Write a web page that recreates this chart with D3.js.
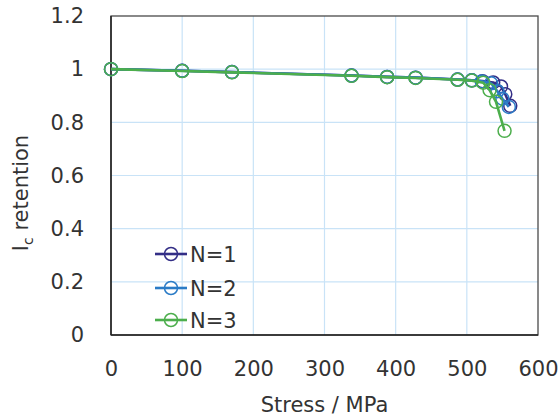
<!DOCTYPE html>
<html>
<head>
<meta charset="utf-8">
<script src="https://cdn.jsdelivr.net/npm/d3@7"></script>
<style>
  html, body { margin: 0; padding: 0; background: #fff; }
  svg { display: block; font-family: "DejaVu Sans", Verdana, sans-serif; }
</style>
</head>
<body>
<svg id="chart" width="559" height="419"></svg>
<script>
// ---- data ----
const seriesNames = ["N=1", "N=2", "N=3"];
const stressN1 = [0, 100, 170, 338, 388, 428, 487, 507, 522, 537, 548, 554, 561];
const retentionN1 = [1.000, 0.994, 0.989, 0.976, 0.971, 0.968, 0.961, 0.958, 0.955, 0.950, 0.935, 0.906, 0.862];
const stressN2 = [0, 100, 170, 338, 388, 428, 487, 507, 521, 534, 543, 550, 559];
const retentionN2 = [1.000, 0.994, 0.989, 0.976, 0.971, 0.968, 0.961, 0.958, 0.954, 0.947, 0.917, 0.889, 0.858];
const stressN3 = [0, 100, 170, 338, 388, 428, 487, 507, 523, 532, 541, 553];
const retentionN3 = [1.000, 0.993, 0.988, 0.975, 0.970, 0.967, 0.960, 0.957, 0.949, 0.921, 0.877, 0.768];
const xTicks = [0, 100, 200, 300, 400, 500, 600];
const yTicks = [0, 0.2, 0.4, 0.6, 0.8, 1.0, 1.2];
const colors = ["#332e86", "#2a7bc6", "#4cae4c"];

const series = [
  { name: seriesNames[0], xs: stressN1, ys: retentionN1, color: colors[0] },
  { name: seriesNames[1], xs: stressN2, ys: retentionN2, color: colors[1] },
  { name: seriesNames[2], xs: stressN3, ys: retentionN3, color: colors[2] }
];

// ---- layout ----
const svg = d3.select("#chart");
const pL = 111, pR = 538, pT = 16, pB = 335;
const x = d3.scaleLinear().domain([0, 600]).range([pL, pR]);
const y = d3.scaleLinear().domain([0, 1.2]).range([pB, pT]);

// gridlines
const grid = svg.append("g");
grid.selectAll("line.vg").data(xTicks.slice(1, -1)).enter().append("line")
  .attr("x1", d => x(d)).attr("x2", d => x(d))
  .attr("y1", pT).attr("y2", pB)
  .attr("stroke", "#c9e3f7").attr("stroke-width", 1.2);
grid.selectAll("line.hg").data(yTicks.slice(1, -1)).enter().append("line")
  .attr("x1", pL).attr("x2", pR)
  .attr("y1", d => y(d)).attr("y2", d => y(d))
  .attr("stroke", "#c9e3f7").attr("stroke-width", 1.2);

// plot frame
svg.append("rect")
  .attr("x", pL).attr("y", pT)
  .attr("width", pR - pL).attr("height", pB - pT)
  .attr("fill", "none").attr("stroke", "#4a4a4a").attr("stroke-width", 1.3);
svg.append("line").attr("x1", pL).attr("x2", pL).attr("y1", pT).attr("y2", pB)
  .attr("stroke", "#222").attr("stroke-width", 1.5);
svg.append("line").attr("x1", pL).attr("x2", pR).attr("y1", pB).attr("y2", pB)
  .attr("stroke", "#222").attr("stroke-width", 1.5);

// axes (labels only)
const xAxis = svg.append("g").attr("transform", `translate(0,${pB + 23})`)
  .call(d3.axisBottom(x).tickValues(xTicks).tickSize(0).tickFormat(d3.format("d")));
xAxis.select(".domain").remove();
xAxis.selectAll("text").attr("font-size", 21).attr("fill", "#333")
  .attr("font-family", "DejaVu Sans, Verdana, sans-serif");

const yAxis = svg.append("g").attr("transform", `translate(${pL - 24},0)`)
  .call(d3.axisLeft(y).tickValues(yTicks).tickSize(0).tickFormat(d => d === 0 || d === 1 ? String(d) : d3.format(".1f")(d)));
yAxis.select(".domain").remove();
yAxis.selectAll("text").attr("font-size", 21).attr("fill", "#333")
  .attr("font-family", "DejaVu Sans, Verdana, sans-serif");

// axis titles
svg.append("text")
  .attr("x", (pL + pR) / 2).attr("y", 412)
  .attr("text-anchor", "middle").attr("font-size", 21).attr("fill", "#333")
  .text("Stress / MPa");

const yt = svg.append("text")
  .attr("transform", "translate(28,193) rotate(-90)")
  .attr("text-anchor", "middle").attr("font-size", 21).attr("fill", "#333");
yt.append("tspan").text("I");
yt.append("tspan").attr("font-size", 14).attr("dy", 5).text("c");
yt.append("tspan").attr("dy", -5).text(" retention");

// series
const line = d3.line().x(d => x(d[0])).y(d => y(d[1]));
series.forEach(s => {
  const pts = s.xs.map((v, i) => [v, s.ys[i]]);
  const g = svg.append("g");
  g.append("path").datum(pts).attr("d", line)
    .attr("fill", "none").attr("stroke", s.color).attr("stroke-width", 2.6)
    .attr("stroke-linejoin", "round");
  g.selectAll("circle").data(pts).enter().append("circle")
    .attr("cx", d => x(d[0])).attr("cy", d => y(d[1])).attr("r", 6.5)
    .attr("fill", "none").attr("stroke", s.color).attr("stroke-width", 1.5);
});

// legend
const legY = [254, 288, 320];
series.forEach((s, i) => {
  const g = svg.append("g").attr("transform", `translate(0,${legY[i]})`);
  g.append("line").attr("x1", 155).attr("x2", 187).attr("y1", 0).attr("y2", 0)
    .attr("stroke", s.color).attr("stroke-width", 2.6);
  g.append("circle").attr("cx", 171).attr("cy", 0).attr("r", 6.5)
    .attr("fill", "none").attr("stroke", s.color).attr("stroke-width", 1.5);
  g.append("text").attr("x", 190).attr("y", 0).attr("dy", "0.36em")
    .attr("font-size", 21).attr("fill", "#333").text(s.name);
});
</script>
</body>
</html>
